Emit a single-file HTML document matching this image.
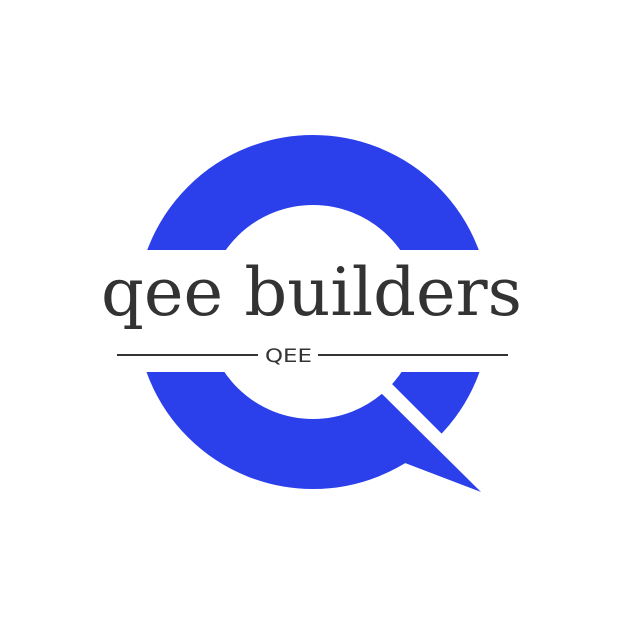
<!DOCTYPE html>
<html><head><style>body{margin:0;background:#fff}svg{display:block}</style></head>
<body>
<svg width="624" height="624" viewBox="0 0 624 624">
<rect width="624" height="624" fill="#fff"/>
<circle cx="313" cy="312" r="142" fill="none" stroke="#2b3feb" stroke-width="70"/>
<rect x="130" y="250" width="370" height="122" fill="#fff"/>
<polygon points="370,362 480,472 470,482 360,372" fill="#fff"/>
<polygon points="383,395 481,492 405,463 380,470 350,430 372,405" fill="#2b3feb"/>
<text x="101" y="315" textLength="421" lengthAdjust="spacingAndGlyphs" font-family="'DejaVu Serif','Liberation Serif',serif" font-size="66" fill="#333">qee builders</text>
<line x1="117" y1="355" x2="258" y2="355" stroke="#333" stroke-width="2"/>
<line x1="318" y1="355" x2="508" y2="355" stroke="#333" stroke-width="2"/>
<text x="265" y="362" textLength="47" lengthAdjust="spacingAndGlyphs" font-family="'DejaVu Sans','Liberation Sans',sans-serif" font-size="19" fill="#333">QEE</text>
</svg>
</body></html>
